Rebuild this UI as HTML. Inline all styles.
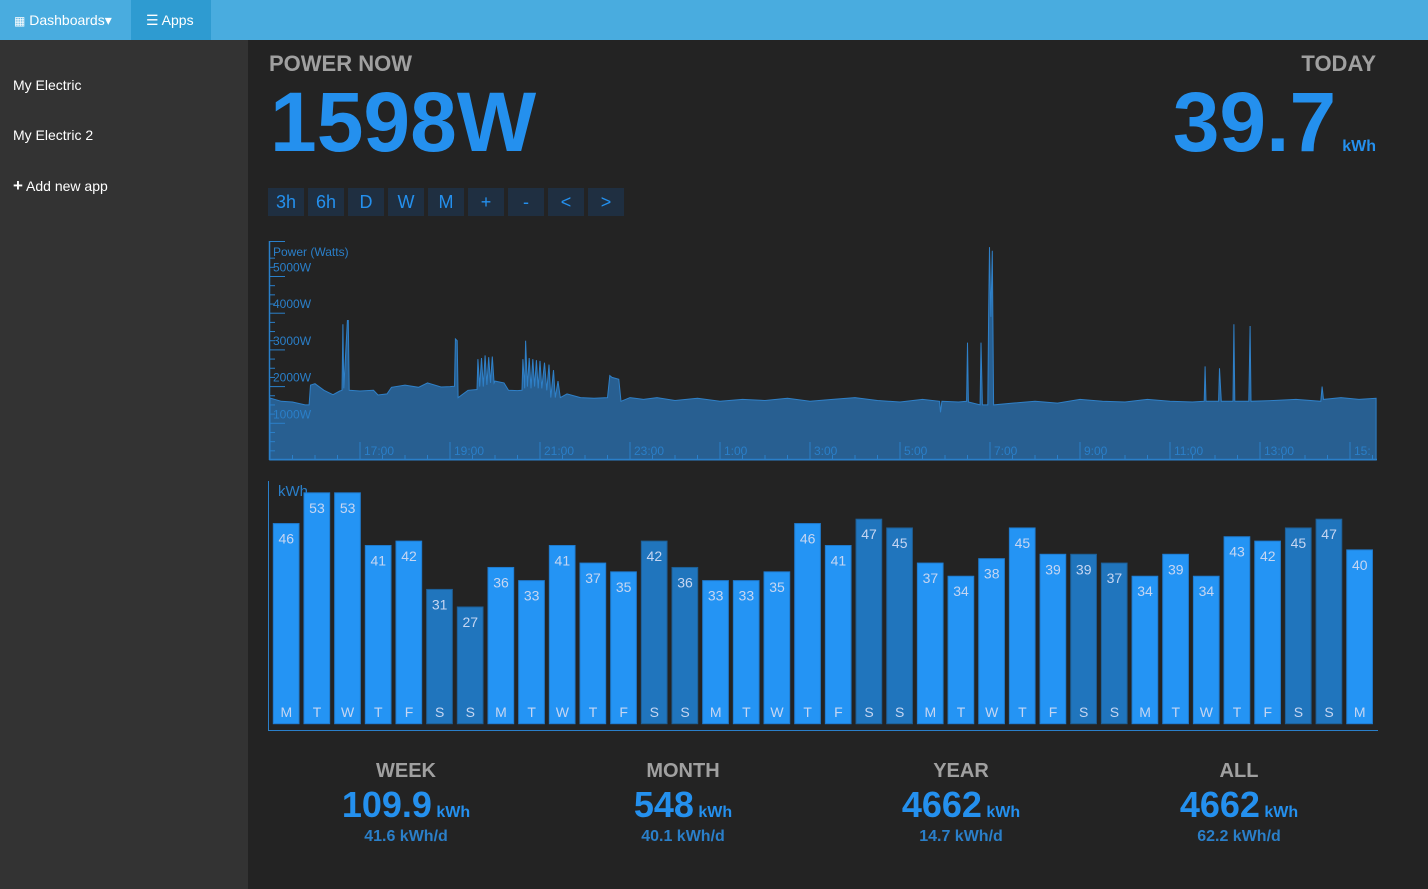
<!DOCTYPE html>
<html><head><meta charset="utf-8">
<style>
*{margin:0;padding:0;box-sizing:border-box}
body{width:1428px;height:889px;background:#232323;font-family:"Liberation Sans",Arial,sans-serif;position:relative;overflow:hidden}
.nav{position:absolute;left:0;top:0;width:1428px;height:40px;background:#49acdf}
.nav div{position:absolute;top:0;height:40px;line-height:40px;color:#fff;font-size:14px}
.side{position:absolute;left:0;top:40px;width:248px;height:849px;background:#333}
.side div{position:absolute;left:13px;color:#fff;font-size:14px}
.abs{position:absolute}
.btn{position:absolute;top:188px;width:36px;height:28px;background:#1f2f41;color:#2490ee;font-size:18px;text-align:center;line-height:28px}
.stat{position:absolute;width:260px;text-align:center}
.stat .h{color:#a0a0a0;font-weight:bold;font-size:20px;position:absolute;top:0;width:100%}
.stat .v{color:#2490ee;font-weight:bold;font-size:36px;position:absolute;top:24px;width:100%}
.stat .v span{font-size:16px}
.stat .d{color:#2a7fc9;font-weight:bold;font-size:16px;position:absolute;top:68px;width:100%}
</style></head><body>
<div class="nav">
  <div style="left:0;width:131px;padding-left:14px"><span style="font-size:12px">&#9638;</span> Dashboards&#9662;</div>
  <div style="left:131px;width:80px;background:#2e9bd1;padding-left:15px">&#9776; Apps</div>
</div>
<div class="side">
  <div style="top:37px">My Electric</div>
  <div style="top:87px">My Electric 2</div>
  <div style="top:136px"><b style="font-size:17px">+</b> Add new app</div>
</div>
<div class="abs" style="left:269px;top:51px;color:#a0a0a0;font-weight:bold;font-size:22px">POWER NOW</div>
<div class="abs" style="left:270px;top:72px;color:#2490ee;font-weight:bold;font-size:84px;line-height:100px">1598W</div>
<div class="abs" style="right:52px;top:51px;color:#a0a0a0;font-weight:bold;font-size:22px">TODAY</div>
<div class="abs" style="right:52px;top:72px;color:#2490ee;font-weight:bold;font-size:84px;line-height:100px">39.7<span style="font-size:16px;margin-left:6px">kWh</span></div>

<div class="btn" style="left:268px">3h</div>
<div class="btn" style="left:308px">6h</div>
<div class="btn" style="left:348px">D</div>
<div class="btn" style="left:388px">W</div>
<div class="btn" style="left:428px">M</div>
<div class="btn" style="left:468px">+</div>
<div class="btn" style="left:508px">-</div>
<div class="btn" style="left:548px">&lt;</div>
<div class="btn" style="left:588px">&gt;</div>

<svg id="pw" class="abs" style="left:0;top:0" width="1428" height="889"></svg>

<div class="stat" style="left:276px;top:760px"><div class="h">WEEK</div><div class="v">109.9<span> kWh</span></div><div class="d">41.6 kWh/d</div></div>
<div class="stat" style="left:553px;top:760px"><div class="h">MONTH</div><div class="v">548<span> kWh</span></div><div class="d">40.1 kWh/d</div></div>
<div class="stat" style="left:831px;top:760px"><div class="h">YEAR</div><div class="v">4662<span> kWh</span></div><div class="d">14.7 kWh/d</div></div>
<div class="stat" style="left:1109px;top:760px"><div class="h">ALL</div><div class="v">4662<span> kWh</span></div><div class="d">62.2 kWh/d</div></div>

<script>
// power chart data (hours since 15:00, watts)
const powerHours=[0,0.25,0.5,0.78,0.87,0.9,1.0,1.2,1.4,1.55,1.6,1.62,1.64,1.72,1.74,1.76,2.0,2.3,2.4,2.6,2.7,3.0,3.3,3.5,3.8,4.0,4.1,4.12,4.16,4.18,4.4,4.6,4.62,4.66,4.7,4.74,4.78,4.82,4.86,4.9,4.94,4.98,5.0,5.2,5.3,5.5,5.6,5.62,5.66,5.68,5.72,5.76,5.8,5.84,5.88,5.92,5.96,6.0,6.04,6.1,6.15,6.2,6.24,6.3,6.34,6.4,6.45,6.6,6.9,7.2,7.5,7.55,7.6,7.75,7.8,8.0,8.3,8.6,9.0,9.5,10,10.5,11,11.5,12,12.5,13,13.5,14,14.5,14.88,14.9,14.93,15.3,15.48,15.5,15.52,15.78,15.8,15.83,15.95,15.97,15.99,16.02,16.05,16.08,16.5,17,17.5,18,18.5,19,19.5,20,20.5,20.76,20.78,20.8,21.08,21.1,21.14,21.4,21.42,21.44,21.75,21.78,21.8,22.3,22.8,23.35,23.38,23.41,23.8,24.2,24.58];
const powerWatts=[1690,1600,1580,1500,1500,2040,2080,1900,1780,1880,1900,3700,1950,3800,3800,1900,1880,1900,1770,1800,1980,2040,1980,2100,1990,2000,2010,3300,3250,1700,1900,1920,2750,2000,2780,2000,2850,2050,2800,2100,2820,2100,2150,2100,1900,1890,1900,2750,1950,3250,2000,2780,1950,2750,2000,2720,1950,2700,1950,2650,1900,2600,1700,2450,1700,2150,1700,1800,1700,1680,1700,2300,2250,2200,1600,1700,1650,1700,1620,1680,1600,1650,1620,1680,1600,1650,1700,1620,1580,1650,1600,1300,1600,1580,1600,3200,1580,1500,3200,1500,1500,3900,5800,3900,5700,1500,1550,1600,1550,1650,1600,1580,1650,1600,1580,1600,2550,1600,1600,2500,1600,1600,3700,1600,1600,3650,1600,1620,1650,1600,2000,1650,1700,1650,1680];
const yTickWatts=[1000,2000,3000,4000,5000];
const xTickLabels=["17:00","19:00","21:00","23:00","1:00","3:00","5:00","7:00","9:00","11:00","13:00","15:"];
const xTickHours=[2,4,6,8,10,12,14,16,18,20,22,24];
// daily kWh bar data
const dayValues=[46,53,53,41,42,31,27,36,33,41,37,35,42,36,33,33,35,46,41,47,45,37,34,38,45,39,39,37,34,39,34,43,42,45,47,40];
const dayLabels=["M","T","W","T","F","S","S","M","T","W","T","F","S","S","M","T","W","T","F","S","S","M","T","W","T","F","S","S","M","T","W","T","F","S","S","M"];

const NS="http://www.w3.org/2000/svg";
const svg=document.getElementById('pw');
function mk(t,a,parent){const e=document.createElementNS(NS,t);for(const k in a)e.setAttribute(k,a[k]);(parent||svg).appendChild(e);return e;}
const px=h=>270+h*45;
const py=w=>460-w*0.0367;
let d="M"+px(powerHours[0])+","+py(0);
powerHours.forEach((h,i)=>{d+=" L"+px(h).toFixed(1)+","+py(powerWatts[i]).toFixed(1);});
d+=" L"+px(powerHours[powerHours.length-1])+","+py(0)+" Z";
const area=mk('path',{d:d,fill:'#285f91',stroke:'#2f80c8','stroke-width':1});


mk('line',{x1:269.5,y1:241,x2:269.5,y2:460,stroke:'#2a7fc9','stroke-width':1.5});
mk('line',{x1:269,y1:459.5,x2:1377,y2:459.5,stroke:'#2a7fc9','stroke-width':1.5});
mk('line',{x1:269,y1:241.5,x2:285,y2:241.5,stroke:'#2a7fc9','stroke-width':1});
for(let w=0;w<=5500;w+=250){const y=py(w);mk('line',{x1:270,y1:y,x2:w%1000===0?285:275,y2:y,stroke:'#2a7fc9','stroke-width':1});}
yTickWatts.forEach(w=>{const t=mk('text',{x:273,y:py(w)-5,fill:'#2a7fc9','font-size':12});t.textContent=w+'W';

});
const yt=mk('text',{x:273,y:256,fill:'#2a7fc9','font-size':12});yt.textContent='Power (Watts)';


for(let h=0.5;h<24.6;h+=0.5){mk('line',{x1:px(h),y1:459,x2:px(h),y2:455,stroke:'#2a7fc9'});}
xTickHours.forEach((h,i)=>{const x=px(h);mk('line',{x1:x,y1:459,x2:x,y2:442,stroke:'#2a7fc9'});
const t=mk('text',{x:x+4,y:455,fill:'#2a7fc9','font-size':12});t.textContent=xTickLabels[i];

});
// bar chart
const bx=i=>273.3+i*30.67;
const by=v=>725.5-v*4.39;
mk('line',{x1:268.5,y1:481,x2:268.5,y2:730,stroke:'#2a7fc9'});
mk('line',{x1:268,y1:730.5,x2:1378,y2:730.5,stroke:'#2a7fc9'});
const kt=mk('text',{x:278,y:496,fill:'#2a7fc9','font-size':15});kt.textContent='kWh';


dayValues.forEach((v,i)=>{
  const we=dayLabels[i]==='S';
  const top=by(v);
  const r=mk('rect',{x:bx(i),y:top,width:25.7,height:723.7-top,fill:we?'#2075bd':'#2494f4',stroke:we?'#1d5f97':'#1f7cd0','stroke-width':1});
  
  
  const t=mk('text',{x:bx(i)+13,y:top+20,fill:'#c6d6f2','font-size':14,'text-anchor':'middle'});t.textContent=v;
  
  
  const l=mk('text',{x:bx(i)+13,y:717,fill:'#c6d6f2','font-size':14,'text-anchor':'middle'});l.textContent=dayLabels[i];
  
  
});
</script>
</body></html>
